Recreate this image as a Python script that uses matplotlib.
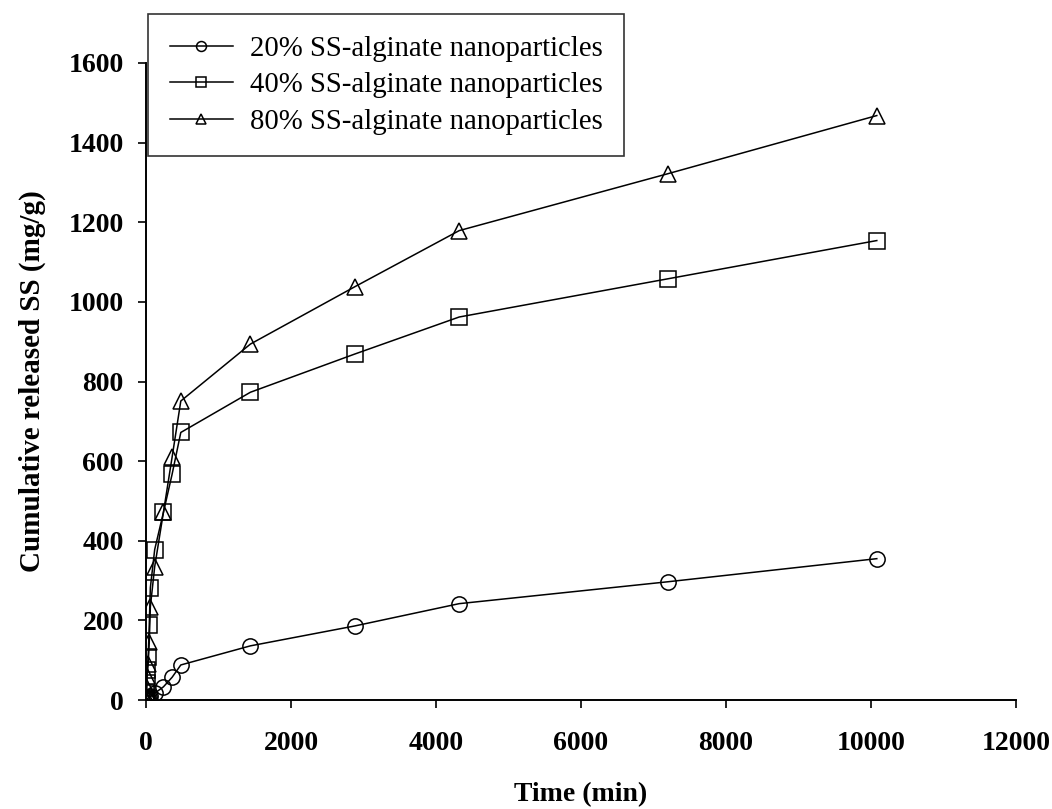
import matplotlib
matplotlib.use("Agg")
import matplotlib.pyplot as plt

time_min = [0, 5, 10, 15, 30, 45, 60, 120, 240, 360, 480, 1440, 2880, 4320, 7200, 10080]
ss20 = [0, 1, 2, 3, 5, 7, 9, 17, 33, 57, 88, 136, 186, 242, 297, 355]
ss40 = [0, 18, 43, 76, 108, 189, 282, 378, 471, 567, 672, 773, 869, 962, 1058, 1154]
ss80 = [0, 10, 30, 60, 90, 146, 234, 335, 471, 610, 751, 894, 1038, 1179, 1322, 1468]
labels = ["20% SS-alginate nanoparticles",
          "40% SS-alginate nanoparticles",
          "80% SS-alginate nanoparticles"]
xticks = [0, 2000, 4000, 6000, 8000, 10000, 12000]
yticks = [0, 200, 400, 600, 800, 1000, 1200, 1400, 1600]

plt.rcParams['font.family'] = ['Liberation Serif', 'DejaVu Serif']

fig = plt.figure(figsize=(10.52, 8.09), dpi=100)
ax = fig.add_axes([146/1052, 1-700/809, (1016-146)/1052, (700-63)/809])

style = dict(color='black', linewidth=1.1, markersize=11, markerfacecolor='none',
             markeredgecolor='black', markeredgewidth=1.1)
ax.plot(time_min, ss20, marker='o', label=labels[0], **style)
ax.plot(time_min, ss40, marker='s', label=labels[1], **style)
ax.plot(time_min, ss80, marker='^', label=labels[2], **style)

ax.set_xlim(0, 12000)
ax.set_ylim(0, 1600)
ax.set_xticks(xticks)
ax.set_yticks(yticks)
ax.spines['top'].set_visible(False)
ax.spines['right'].set_visible(False)
for s in ['left', 'bottom']:
    ax.spines[s].set_linewidth(1.4)
ax.tick_params(axis='x', direction='out', length=6, width=1.2, pad=16, labelsize=20)
ax.tick_params(axis='y', direction='out', length=6, width=1.2, pad=10, labelsize=20)
for lab in ax.get_xticklabels() + ax.get_yticklabels():
    lab.set_fontweight('bold')

ax.set_xlabel("Time (min)", fontsize=20, fontweight='bold', labelpad=19)
ax.set_ylabel("Cumulative released SS (mg/g)", fontsize=21, fontweight='bold', labelpad=16)

leg = fig.legend(loc='upper left', bbox_to_anchor=(148/1052, 1-14/809),
                 bbox_transform=fig.transFigure, borderaxespad=0,
                 fontsize=20.7, markerscale=0.65, handlelength=2.2,
                 labelspacing=0.36, frameon=True, fancybox=False,
                 edgecolor='black', borderpad=0.75, handletextpad=0.6)
leg.get_frame().set_linewidth(1.2)

fig.savefig("out.png", dpi=100)
